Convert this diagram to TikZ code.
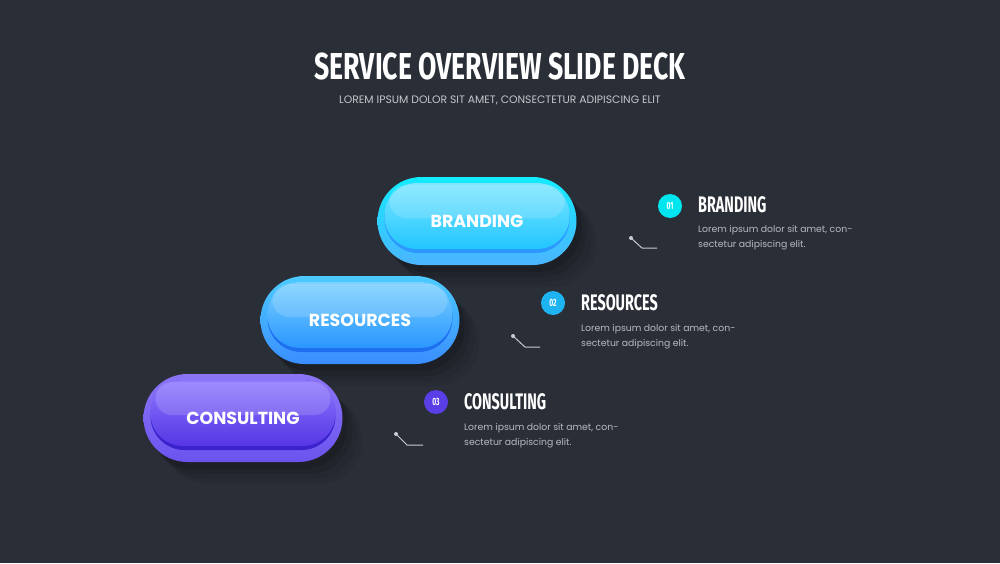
\documentclass[tikz,border=0pt]{standalone}
\usepackage{fontspec}
\setmainfont{Poppins}
\newfontfamily\headfont[FakeStretch=0.64]{Fira Sans}
\newfontfamily\titlefont[FakeStretch=0.71]{Fira Sans}
\usetikzlibrary{shadows}

\definecolor{bg}{HTML}{2A2F37}
\definecolor{subgray}{HTML}{C3C7CC}
\definecolor{txtgray}{HTML}{B6BAC0}
\definecolor{tickgray}{HTML}{C8CCD0}
% pill colours
\definecolor{cyanTop}{HTML}{12ECFF}
\definecolor{cyanBot}{HTML}{4CB4FF}
\definecolor{cyanIn}{HTML}{7CE6FF}
\definecolor{cyanInB}{HTML}{22C6FF}
\definecolor{cyanRim}{HTML}{2C98FF}
\definecolor{blueTop}{HTML}{4CCBFF}
\definecolor{blueBot}{HTML}{3A8EFF}
\definecolor{blueIn}{HTML}{7AD2FF}
\definecolor{blueInB}{HTML}{2A96FF}
\definecolor{blueRim}{HTML}{1E6EF0}
\definecolor{violTop}{HTML}{8C74F6}
\definecolor{violBot}{HTML}{6A54EE}
\definecolor{violIn}{HTML}{8E78FF}
\definecolor{violInB}{HTML}{5636E4}
\definecolor{violRim}{HTML}{3A22CC}
% number dots
\definecolor{dotOne}{HTML}{00E6F0}
\definecolor{dotTwo}{HTML}{1EB4F2}
\definecolor{dotThree}{HTML}{5A3EE6}

\begin{document}
\begin{tikzpicture}[
    x=1pt, y=-1pt,
    pill/.style n args={5}{rectangle, rounded corners=44pt, minimum width=199pt,
      minimum height=88pt, inner sep=0pt, top color=#1, bottom color=#2,
      text=white, font=\bfseries\fontsize{17.4}{19}\selectfont,
      drop shadow={shadow xshift=20pt, shadow yshift=-22pt, opacity=.05, fill=black},
      drop shadow={shadow xshift=15pt, shadow yshift=-17pt, opacity=.07, fill=black},
      drop shadow={shadow xshift=10pt, shadow yshift=-12pt, opacity=.09, fill=black},
      drop shadow={shadow xshift=5pt, shadow yshift=-7pt, opacity=.12, fill=black},
      path picture={
        \fill[#5, rounded corners=34pt]
          ([xshift=7pt,yshift=-6pt]path picture bounding box.north west) rectangle
          ([xshift=-7pt,yshift=12pt]path picture bounding box.south east);
        \shade[top color=#3, bottom color=#4, rounded corners=32.5pt]
          ([xshift=7pt,yshift=-6pt]path picture bounding box.north west) rectangle
          ([xshift=-7pt,yshift=16pt]path picture bounding box.south east);
        \fill[white, opacity=.15, rounded corners=16.5pt]
          ([xshift=12pt,yshift=-8pt]path picture bounding box.north west) rectangle
          ([xshift=-12pt,yshift=-41pt]path picture bounding box.north east);
      }},
    numdot/.style={circle, fill=#1, minimum size=24pt, inner sep=0pt, text=white,
      font=\headfont\bfseries\fontsize{10.5}{10.5}\selectfont},
    head/.style={anchor=west, inner sep=0pt, text=white,
      font=\headfont\bfseries\fontsize{22.5}{24}\selectfont},
    body/.style={anchor=north west, align=left, inner sep=0pt, text=txtgray,
      font=\fontsize{9.3}{15}\selectfont},
    tick/.style={draw=tickgray, line width=1pt}
]

% Background
\fill[bg] (0,0) rectangle (1000,563);
\useasboundingbox (0,0) rectangle (1000,563);

% Title
\node[anchor=base, inner sep=0pt, text=white, font=\titlefont\bfseries\fontsize{37.5}{40}\selectfont]
  (title) at (500,79.5) {SERVICE OVERVIEW SLIDE DECK};
\node[anchor=base, inner sep=0pt, text=subgray, font=\fontsize{10.8}{12}\selectfont]
  (subtitle) at (500,103.3) {LOREM IPSUM DOLOR SIT AMET, CONSECTETUR ADIPISCING ELIT};

% Buttons
\node[pill={cyanTop}{cyanBot}{cyanIn}{cyanInB}{cyanRim}] (branding) at (477,221) {BRANDING};
\node[pill={blueTop}{blueBot}{blueIn}{blueInB}{blueRim}] (resources) at (360,320) {RESOURCES};
\node[pill={violTop}{violBot}{violIn}{violInB}{violRim}] (consulting) at (243,418) {CONSULTING};

% Item 01
\node[numdot=dotOne] (n1) at (670,206) {01};
\node[head] (h1) at (698,205) {BRANDING};
\node[body] (b1) at (698,225) {Lorem ipsum dolor sit amet, con-\\sectetur adipiscing elit.};
\coordinate (t1a) at (631,238);
\coordinate (t1b) at (642,248);
\coordinate (t1c) at (657,248);
\draw[tick] (t1a) -- (t1b) -- (t1c);
\fill[tickgray] (t1a) circle (2);

% Item 02
\node[numdot=dotTwo] (n2) at (553,303) {02};
\node[head] (h2) at (581,303) {RESOURCES};
\node[body] (b2) at (581,324) {Lorem ipsum dolor sit amet, con-\\sectetur adipiscing elit.};
\coordinate (t2a) at (513,336);
\coordinate (t2b) at (525,347);
\coordinate (t2c) at (540,347);
\draw[tick] (t2a) -- (t2b) -- (t2c);
\fill[tickgray] (t2a) circle (2);

% Item 03
\node[numdot=dotThree] (n3) at (436,402) {03};
\node[head] (h3) at (464,402) {CONSULTING};
\node[body] (b3) at (464,423) {Lorem ipsum dolor sit amet, con-\\sectetur adipiscing elit.};
\coordinate (t3a) at (396,434);
\coordinate (t3b) at (407,445);
\coordinate (t3c) at (423,445);
\draw[tick] (t3a) -- (t3b) -- (t3c);
\fill[tickgray] (t3a) circle (2);

\end{tikzpicture}
\end{document}
